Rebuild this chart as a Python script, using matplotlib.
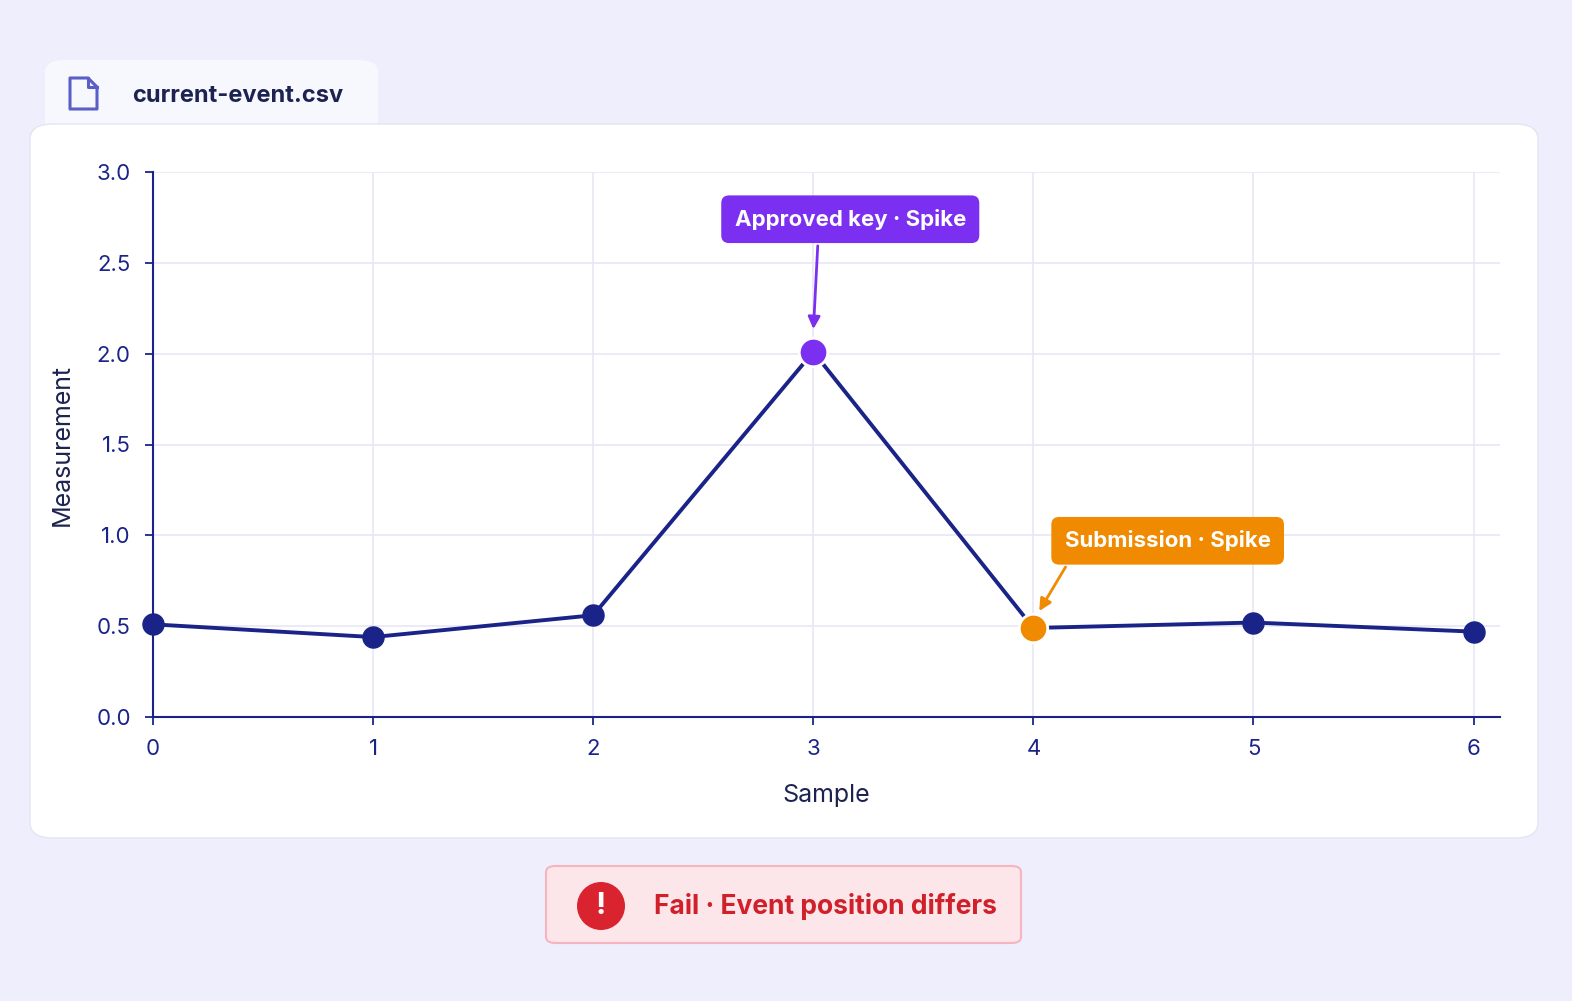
import matplotlib
matplotlib.use("Agg")
import matplotlib.pyplot as plt
from matplotlib.patches import FancyBboxPatch, Ellipse, Polygon

samples = [0, 1, 2, 3, 4, 5, 6]
values = [0.51, 0.44, 0.56, 2.01, 0.49, 0.52, 0.47]
yticks = [0.0, 0.5, 1.0, 1.5, 2.0, 2.5, 3.0]
approved_idx = 3
submission_idx = 4

W, H = 1572, 1001
NAVY = "#1A2488"
PURPLE = "#7B2FF0"
ORANGE = "#F08A00"
plt.rcParams["font.family"] = ["Inter", "DejaVu Sans"]

fig = plt.figure(figsize=(W / 100, H / 100), dpi=100)
fig.patch.set_facecolor("#EEEEFC")


def fx(x):
    return x / W


def fy(y):
    return 1 - y / H


def px_box(x0, y0, x1, y1, **kw):
    # pixel coords (top-left origin) -> figure fraction
    p = FancyBboxPatch((fx(x0), fy(y1)), (x1 - x0) / W, (y1 - y0) / H,
                       transform=fig.transFigure, zorder=-5, **kw)
    fig.patches.append(p)


# file tab + card
px_box(45, 60, 378, 150, boxstyle="round,pad=0,rounding_size=0.012",
       fc="#F7F7FE", ec="none")
px_box(30, 124, 1538, 838, boxstyle="round,pad=0,rounding_size=0.015",
       fc="white", ec="#E4E4F4", lw=1)
fig.text(fx(132), fy(96), "current-event.csv", fontsize=17, fontweight="bold",
         color="#1C2350", va="center")
# file icon outline
icon = [(70, 78), (88, 78), (97, 87), (97, 109), (70, 109)]
fig.patches.append(Polygon([(fx(a), fy(b)) for a, b in icon], closed=True,
                           transform=fig.transFigure, fc="none", ec="#5A5FC8",
                           lw=2.2, joinstyle="round", zorder=-4))
fold = [(88, 78), (88, 87), (97, 87)]
fig.lines.append(plt.Line2D([fx(a) for a, b in fold], [fy(b) for a, b in fold],
                            transform=fig.transFigure, color="#5A5FC8", lw=2.2))

ax = fig.add_axes([fx(153), fy(717), (1500 - 153) / W, 545 / H])
ax.set_facecolor("none")
ax.set_xlim(0, 6.12)
ax.set_ylim(0, 3.0)
ax.set_xticks(samples)
ax.set_yticks(yticks)
ax.set_yticklabels([f"{v:.1f}" for v in yticks])
ax.grid(True, color="#E6E8F2", lw=1.2)
for s in ["top", "right"]:
    ax.spines[s].set_visible(False)
for s in ["left", "bottom"]:
    ax.spines[s].set_color(NAVY)
    ax.spines[s].set_linewidth(1.5)
ax.tick_params(colors=NAVY, labelsize=16, length=6, width=1.3, pad=10)
ax.set_xlabel("Sample", fontsize=18, color="#1C2350", labelpad=18)
ax.set_ylabel("Measurement", fontsize=18, color="#1C2350", labelpad=16)

ax.plot(samples, values, color=NAVY, lw=2.8, zorder=3)
normal = [i for i in samples if i not in (approved_idx, submission_idx)]
ax.scatter([samples[i] for i in normal], [values[i] for i in normal], s=230,
           color=NAVY, zorder=4, clip_on=False)
ax.scatter([samples[approved_idx]], [values[approved_idx]], s=420, color=PURPLE,
           ec="white", lw=2, zorder=5)
ax.scatter([samples[submission_idx]], [values[submission_idx]], s=420, color=ORANGE,
           ec="white", lw=2, zorder=5)

ax.annotate("Approved key · Spike", xy=(samples[approved_idx], values[approved_idx] + 0.11),
            xytext=(samples[approved_idx] + 0.168, 2.74), ha="center", va="center",
            fontsize=16, fontweight="bold", color="white",
            bbox=dict(boxstyle="round,pad=0.6,rounding_size=0.35", fc=PURPLE, ec="none"),
            arrowprops=dict(arrowstyle="-|>", color=PURPLE, lw=2, mutation_scale=18,
                            relpos=(0.363, 0)))
ax.annotate("Submission · Spike", xy=(samples[submission_idx] + 0.02, values[submission_idx] + 0.08),
            xytext=(samples[submission_idx] + 0.61, 0.97), ha="center", va="center",
            fontsize=16, fontweight="bold", color="white",
            bbox=dict(boxstyle="round,pad=0.6,rounding_size=0.35", fc=ORANGE, ec="none"),
            arrowprops=dict(arrowstyle="-|>", color=ORANGE, lw=2, mutation_scale=18,
                            relpos=(0.05, 0)))

# fail badge
px_box(546, 866, 1021, 943, boxstyle="round,pad=0,rounding_size=0.006",
       fc="#FDE6EA", ec="#F6B4C0", lw=1.5)
fig.patches.append(Ellipse((fx(601), fy(906)), 48 / W, 48 / H, transform=fig.transFigure,
                           fc="#D9232E", ec="none", zorder=-4))
fig.text(fx(601), fy(906), "!", fontsize=22, fontweight="bold", color="white",
         ha="center", va="center")
fig.text(fx(654), fy(906), "Fail · Event position differs", fontsize=19,
         fontweight="bold", color="#D0202A", va="center")

fig.savefig("out.png", dpi=100)
